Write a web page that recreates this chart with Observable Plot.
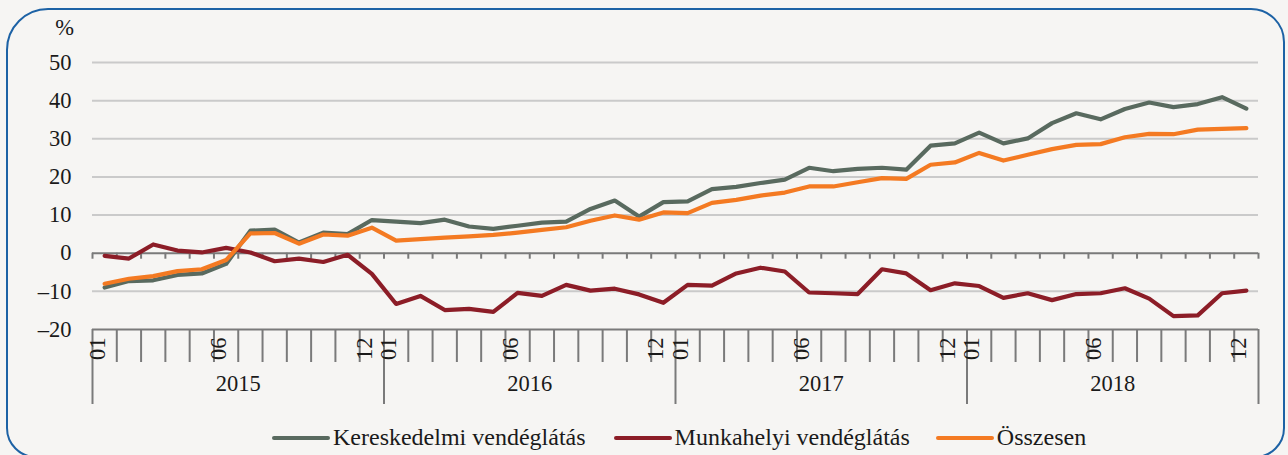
<!DOCTYPE html>
<html>
<head>
<meta charset="utf-8">
<script src="https://cdn.jsdelivr.net/npm/d3@7"></script>
<script src="https://cdn.jsdelivr.net/npm/@observablehq/plot@0.6"></script>
<style>
  html, body { margin: 0; padding: 0; background: #f6f5f3; }
  #wrap { position: relative; width: 1288px; height: 455px; overflow: hidden; background: #f6f5f3; font-family: "Liberation Serif", serif; }
  #frame { position: absolute; left: 6px; top: 8px; width: 1279px; height: 450px; box-sizing: border-box; border: 2px solid #1d62a5; border-radius: 42px 34px 30px 30px; }
  #chart { position: absolute; left: 0; top: 0; }
  #legend { position: absolute; left: 272px; top: 424px; display: flex; align-items: center; font-size: 24px; color: #1a1a1a; white-space: nowrap; }
  .item { display: flex; align-items: center; margin-right: 28px; }
  .sw { width: 58px; height: 4px; border-radius: 2px; margin-right: 3px; }
</style>
</head>
<body>
<div id="wrap">
  <div id="frame"></div>
  <div id="chart"></div>
  <div id="legend"></div>
</div>
<script>
// ---- data ----
const years = ["2015", "2016", "2017", "2018"];
const months = ["01","02","03","04","05","06","07","08","09","10","11","12"];
const shownMonths = ["01", "06", "12"];
const yTicks = [-20, -10, 0, 10, 20, 30, 40, 50];

const seriesNames = ["Kereskedelmi vendéglátás", "Munkahelyi vendéglátás", "Összesen"];
const seriesColors = ["#596a5f", "#8c1d27", "#f47a22"];

const kereskedelmi = [
  -9.0, -7.3, -7.1, -5.7, -5.3, -2.8, 5.9, 6.2, 2.8, 5.4, 5.0, 8.7,
  8.3, 7.9, 8.8, 7.0, 6.4, 7.2, 8.0, 8.3, 11.6, 13.8, 9.6, 13.4,
  13.6, 16.8, 17.4, 18.4, 19.3, 22.4, 21.5, 22.1, 22.4, 21.9, 28.2, 28.8,
  31.6, 28.8, 30.1, 34.1, 36.7, 35.1, 37.8, 39.5, 38.3, 39.1, 40.9, 37.9
];
const munkahelyi = [
  -0.7, -1.4, 2.3, 0.7, 0.2, 1.4, 0.2, -2.1, -1.4, -2.3, -0.4, -5.4,
  -13.3, -11.2, -14.9, -14.6, -15.4, -10.4, -11.2, -8.3, -9.8, -9.3, -10.8, -13.0,
  -8.3, -8.5, -5.3, -3.8, -4.8, -10.3, -10.5, -10.7, -4.2, -5.3, -9.7, -7.9,
  -8.6, -11.7, -10.5, -12.3, -10.7, -10.5, -9.2, -11.9, -16.5, -16.3, -10.5, -9.8
];
const osszesen = [
  -8.0, -6.7, -6.0, -4.7, -4.2, -1.8, 5.2, 5.3, 2.5, 4.9, 4.6, 6.7,
  3.3, 3.7, 4.1, 4.4, 4.8, 5.4, 6.1, 6.8, 8.5, 9.9, 8.8, 10.7,
  10.5, 13.2, 14.0, 15.1, 15.9, 17.5, 17.5, 18.6, 19.7, 19.5, 23.2, 23.8,
  26.3, 24.3, 25.8, 27.3, 28.4, 28.6, 30.4, 31.3, 31.2, 32.4, 32.6, 32.8
];
const seriesValues = [kereskedelmi, munkahelyi, osszesen];

// ---- build tables ----
const periods = years.flatMap(y => months.map(m => ({year: y, month: m})));
const n = periods.length;
periods.forEach((p, i) => p.i = i);
const rows = seriesNames.flatMap((name, s) =>
  seriesValues[s].map((v, i) => ({series: name, i, value: v})));
const bounds = d3.range(n + 1).map(k => k - 0.5);
const yearBounds = bounds.filter((b, k) => k % months.length === 0);
const monthBounds = bounds.filter((b, k) => k % months.length !== 0);
const yearMid = years.map((y, k) => ({year: y, x: k * months.length + (months.length - 1) / 2}));
const yMin = d3.min(yTicks), yMax = d3.max(yTicks);
const fmt = d => d < 0 ? "\u2013" + Math.abs(d) : String(d);

const axisColor = "#7a7a7a";

const chart = Plot.plot({
  width: 1288,
  height: 415,
  marginLeft: 92,
  marginRight: 30,
  marginTop: 62,
  marginBottom: 86,
  style: {background: "transparent", fontFamily: "'Liberation Serif', serif", fontSize: "22.5px", color: "#1a1a1a", overflow: "visible"},
  x: {domain: [-0.5, n - 0.5], axis: null},
  y: {domain: [yMin, yMax], ticks: yTicks, tickSize: 0, tickPadding: 21, tickFormat: fmt, label: null},
  color: {domain: seriesNames, range: seriesColors},
  marks: [
    Plot.ruleY(yTicks.filter(v => v !== 0 && v !== yMin), {stroke: "#cacaca", strokeWidth: 2}),
    Plot.ruleY([0, yMin], {stroke: axisColor, strokeWidth: 2}),
    Plot.ruleX(bounds, {x: d => d, y1: 0, y2: 0, insetBottom: -6, stroke: axisColor, strokeWidth: 2}),
    Plot.ruleX(monthBounds, {x: d => d, y1: yMin, y2: yMin, insetBottom: -33, stroke: axisColor, strokeWidth: 2}),
    Plot.ruleX(yearBounds, {x: d => d, y1: yMin, y2: yMin, insetBottom: -75, stroke: axisColor, strokeWidth: 2}),
    Plot.text(periods.filter(p => shownMonths.includes(p.month)), {
      x: "i", text: "month", frameAnchor: "bottom", dy: 8, rotate: -90, textAnchor: "end", fill: "#1a1a1a"
    }),
    Plot.text(yearMid, {x: "x", text: "year", frameAnchor: "bottom", dy: 61, fill: "#1a1a1a"}),
    Plot.text(["%"], {frameAnchor: "top-left", dx: -28, dy: -35, textAnchor: "middle", lineAnchor: "middle", fill: "#1a1a1a"}),
    Plot.line(rows, {x: "i", y: "value", z: "series", stroke: "series", strokeWidth: 4.2, strokeLinejoin: "round", strokeLinecap: "round"})
  ]
});
document.getElementById("chart").appendChild(chart);

const legend = document.getElementById("legend");
seriesNames.forEach((name, s) => {
  const item = document.createElement("div");
  item.className = "item";
  if (s === 1) item.style.marginRight = "26px";
  const sw = document.createElement("div");
  sw.className = "sw";
  sw.style.background = seriesColors[s];
  const label = document.createElement("span");
  label.textContent = name;
  item.appendChild(sw);
  item.appendChild(label);
  legend.appendChild(item);
});
</script>
</body>
</html>
